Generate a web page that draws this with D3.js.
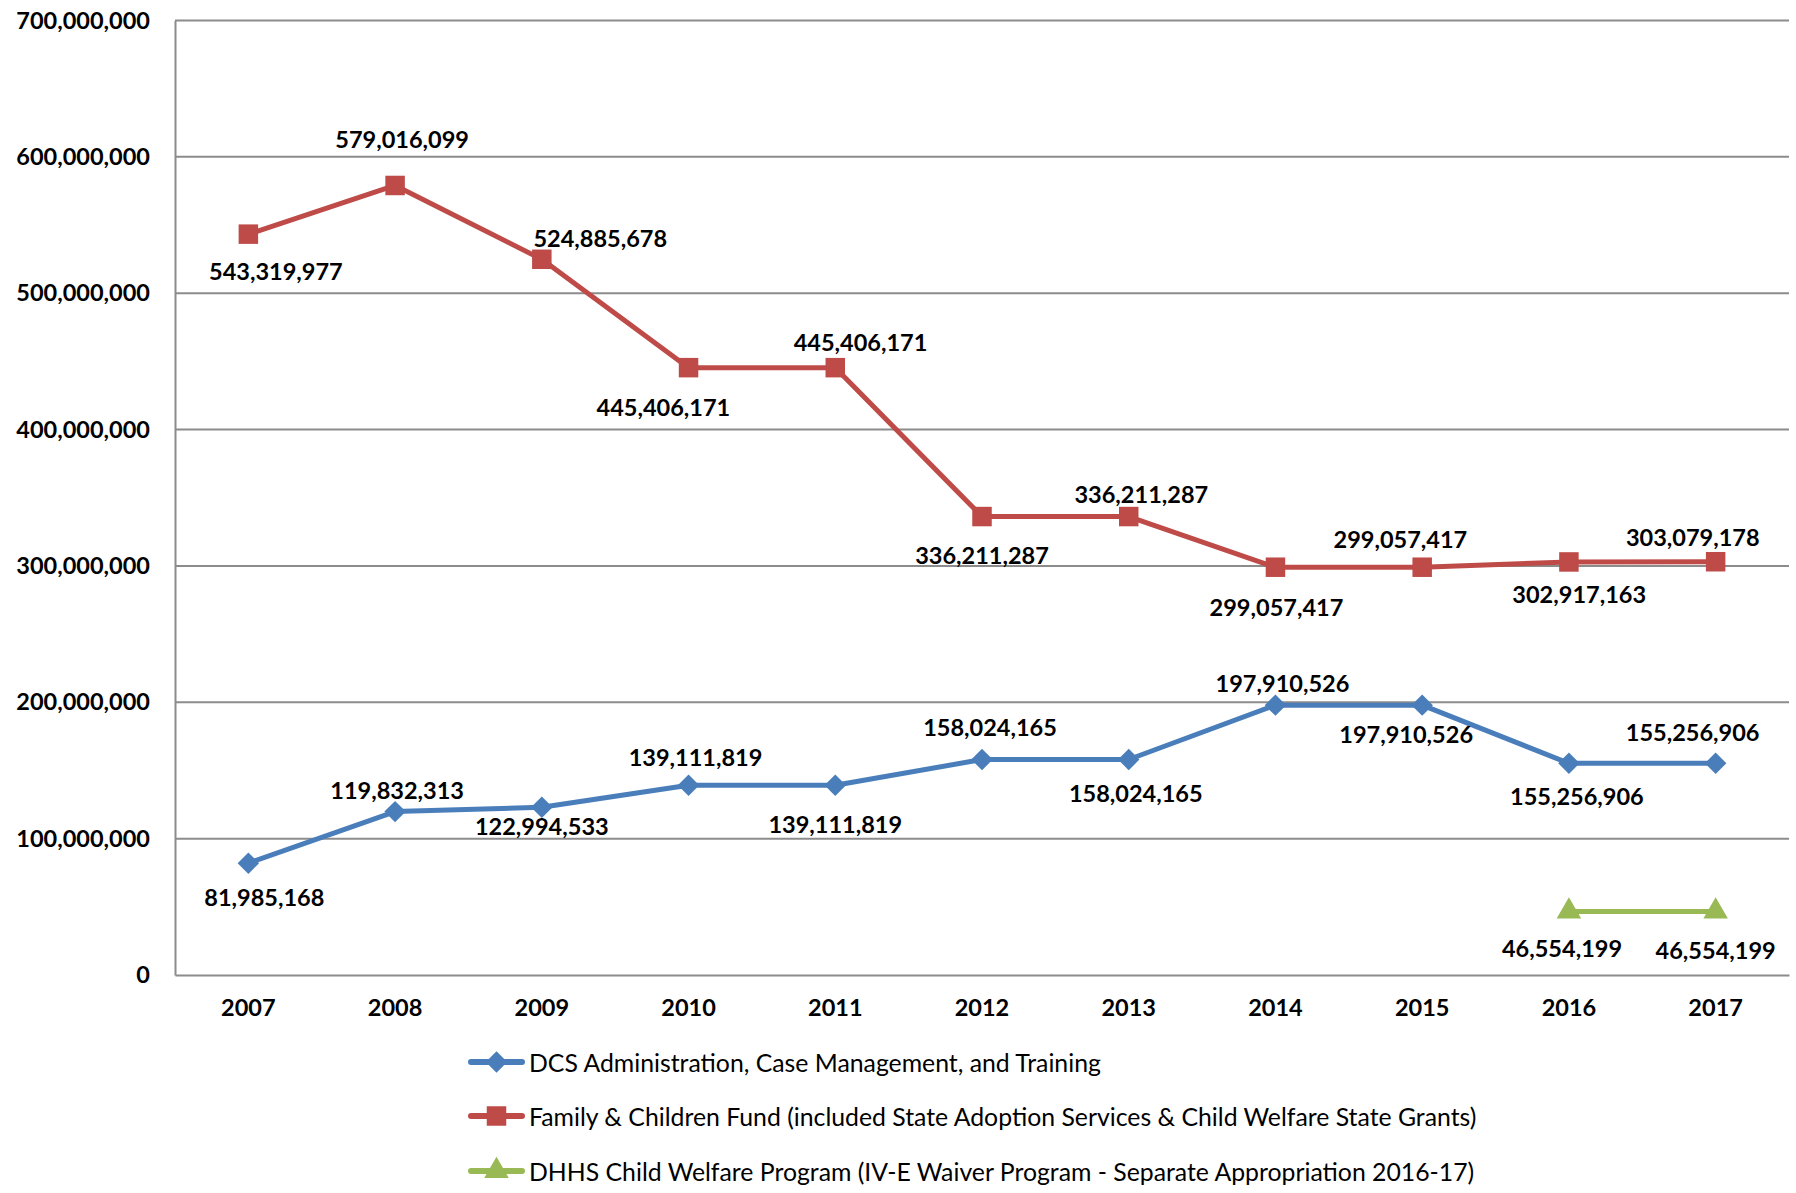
<!DOCTYPE html>
<html>
<head>
<meta charset="utf-8">
<script src="https://cdn.jsdelivr.net/npm/d3@7"></script>
<style>
  html, body { margin: 0; padding: 0; background: #fff; }
  svg { display: block; }
</style>
</head>
<body>
<svg id="chart" width="1796" height="1193"></svg>
<script>
// ---- data ----
const years = ["2007","2008","2009","2010","2011","2012","2013","2014","2015","2016","2017"];
const dcsValues = [81985168, 119832313, 122994533, 139111819, 139111819, 158024165, 158024165, 197910526, 197910526, 155256906, 155256906];
const familyValues = [543319977, 579016099, 524885678, 445406171, 445406171, 336211287, 336211287, 299057417, 299057417, 302917163, 303079178];
const dhhsValues = [null, null, null, null, null, null, null, null, null, 46554199, 46554199];
const yTicks = [0, 100000000, 200000000, 300000000, 400000000, 500000000, 600000000, 700000000];
const seriesNames = [
  "DCS Administration, Case Management, and Training",
  "Family & Children Fund (included State Adoption Services & Child Welfare State Grants)",
  "DHHS Child Welfare Program (IV-E Waiver Program - Separate Appropriation 2016-17)"
];

// ---- layout (label offsets relative to the point, px) ----
const dcsLabelOffsets = [[16,34],[2,-22],[0,19],[7,-28],[0,38.6],[8,-33],[7,33.6],[7,-22],[-16,28.4],[8,33.2],[-23,-31]];
const familyLabelOffsets = [[27.5,36.6],[7,-46],[58.4,-21.3],[-25.2,39.7],[25.2,-25.5],[0,38.5],[12.6,-22.2],[1,39.3],[-21.8,-28.3],[10.3,32],[-22.9,-25.2]];
const dhhsLabelOffsets = [null,null,null,null,null,null,null,null,null,[-6.9,36],[0,38.4]];

const colors = { dcs: "#4A7EBB", family: "#BE4B48", dhhs: "#98B954" };
const font = "Lato, 'Open Sans', sans-serif";

const svg = d3.select("#chart");
const plot = { left: 175, right: 1789, top: 20.5, bottom: 975 };

const x = d3.scaleBand().domain(years).range([plot.left, plot.right]).paddingInner(0).paddingOuter(0);
const y = d3.scaleLinear().domain([0, 700000000]).range([plot.bottom, plot.top]);
const cx = d => x(d) + x.bandwidth() / 2;
const fmt = d3.format(",");

// gridlines
svg.append("g").selectAll("line").data(yTicks.filter(t => t > 0)).join("line")
  .attr("x1", plot.left).attr("x2", plot.right)
  .attr("y1", d => y(d)).attr("y2", d => y(d))
  .attr("stroke", "#8C8C8C").attr("stroke-width", 2);

// y axis
const yAxis = svg.append("g").attr("transform", `translate(${plot.left},0)`)
  .call(d3.axisLeft(y).tickValues(yTicks).tickFormat(fmt).tickSize(0).tickPadding(25));
yAxis.select(".domain").attr("stroke", "#8C8C8C").attr("stroke-width", 2);
yAxis.selectAll("text").attr("font-family", font).attr("font-weight", "bold")
  .attr("font-size", "23.5px").attr("fill", "#000");

// x axis
const xAxis = svg.append("g").attr("transform", `translate(0,${plot.bottom})`)
  .call(d3.axisBottom(x).tickSize(0).tickPadding(24));
xAxis.select(".domain").attr("stroke", "#8C8C8C").attr("stroke-width", 2);
xAxis.selectAll("text").attr("font-family", font).attr("font-weight", "bold")
  .attr("font-size", "23.5px").attr("fill", "#000");

// marker generators
const sym = {
  diamond: d3.symbol().type(d3.symbolSquare).size(230),
  square: d3.symbol().type(d3.symbolSquare).size(380),
  triangle: d3.symbol().type(d3.symbolTriangle).size(260)
};

function drawSeries(values, color, markerType, offsets) {
  const pts = years.map((yr, i) => ({ yr, v: values[i], off: offsets[i] })).filter(p => p.v != null);
  const line = d3.line().x(p => cx(p.yr)).y(p => y(p.v));
  svg.append("path").datum(pts).attr("d", line)
    .attr("fill", "none").attr("stroke", color).attr("stroke-width", 5).attr("stroke-linejoin", "round");
  const g = svg.append("g");
  g.selectAll("path").data(pts).join("path")
    .attr("d", sym[markerType]())
    .attr("transform", p => `translate(${cx(p.yr)},${y(p.v)})` + (markerType === "diamond" ? " rotate(45)" : ""))
    .attr("fill", color);
  svg.append("g").selectAll("text").data(pts).join("text")
    .attr("x", p => cx(p.yr) + p.off[0])
    .attr("y", p => y(p.v) + p.off[1])
    .attr("text-anchor", "middle").attr("dominant-baseline", "central")
    .attr("font-family", font).attr("font-weight", "bold").attr("font-size", "23.5px")
    .attr("fill", "#000")
    .text(p => fmt(p.v));
}

drawSeries(familyValues, colors.family, "square", familyLabelOffsets);
drawSeries(dcsValues, colors.dcs, "diamond", dcsLabelOffsets);
drawSeries(dhhsValues, colors.dhhs, "triangle", dhhsLabelOffsets);

// legend
const legendItems = [
  { name: seriesNames[0], color: colors.dcs, m: "diamond" },
  { name: seriesNames[1], color: colors.family, m: "square" },
  { name: seriesNames[2], color: colors.dhhs, m: "triangle" }
];
const legendRows = [1062, 1116, 1171];
const lg = svg.append("g");
legendItems.forEach((it, i) => {
  const ly = legendRows[i];
  lg.append("line").attr("x1", 471).attr("x2", 522).attr("y1", ly).attr("y2", ly)
    .attr("stroke", it.color).attr("stroke-width", 6).attr("stroke-linecap", "round");
  lg.append("path").attr("d", sym[it.m]())
    .attr("transform", `translate(496.5,${ly})` + (it.m === "diamond" ? " rotate(45)" : ""))
    .attr("fill", it.color);
  lg.append("text").attr("x", 529).attr("y", ly).attr("dominant-baseline", "central")
    .attr("font-family", font).attr("font-size", "24.8px").attr("fill", "#000")
    .text(it.name);
});
</script>
</body>
</html>
